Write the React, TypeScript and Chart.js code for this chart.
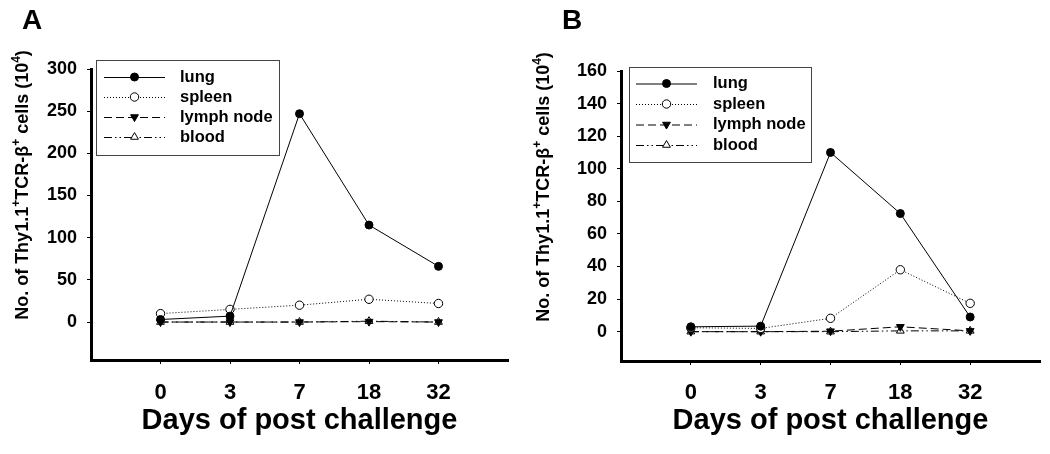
import React, { useEffect, useRef } from 'react';
import { Chart, registerables } from 'chart.js';

Chart.register(...registerables);

// ---------- data ----------
const days = ['0', '3', '7', '18', '32'];
const seriesNames = ['lung', 'spleen', 'lymph node', 'blood'];

const lungA = [3, 7, 247, 115, 66];
const spleenA = [10, 15, 20, 27, 22];
const lymphA = [0, 0, 0, 0.5, 0];
const bloodA = [0, 0, 0, 1, 0];

const lungB = [3, 3.4, 110, 72.5, 9];
const spleenB = [2.4, 2, 8.2, 38, 17.4];
const lymphB = [0, 0, 0.3, 3, 0.5];
const bloodB = [0, 0, 0, 0.5, 0.5];

const yTicksA = [0, 50, 100, 150, 200, 250, 300];
const yTicksB = [0, 20, 40, 60, 80, 100, 120, 140, 160];

const xTitle = 'Days of post challenge';
const yTitleParts: [string, boolean][] = [
  ['No. of Thy1.1', false],
  ['+', true],
  ['TCR-\u03B2', false],
  ['+', true],
  [' cells (10', false],
  ['4', true],
  [')', false],
];

// ---------- styles ----------
const FONT = '"Liberation Sans", Arial, Helvetica, sans-serif';

const seriesStyles = [
  { dash: [] as number[], pointStyle: 'circle', fill: '#000000', rot: 0, r: 4 },
  { dash: [1, 2], pointStyle: 'circle', fill: '#ffffff', rot: 0, r: 4.2 },
  { dash: [8, 4], pointStyle: 'triangle', fill: '#000000', rot: 180, r: 4.5 },
  { dash: [8, 3, 1.5, 3, 1.5, 3], pointStyle: 'triangle', fill: '#ffffff', rot: 0, r: 4.5 },
];

const panels = [
  {
    letter: 'A', letterX: 22,
    series: [lungA, spleenA, lymphA, bloodA],
    yMin: -45, yMax: 300, yTicks: yTicksA,
    padRight: 17, padTop: 69, yWidth: 91, xHeight: 94, tickPadX: 16,
    titleX: 28, titleY: 185,
    legend: { x: 96, y: 60, w: 183, h: 95, row0: 77, step: 20, l0: 104, l1: 165, tx: 180 },
  },
  {
    letter: 'B', letterX: 37,
    series: [lungB, spleenB, lymphB, bloodB],
    yMin: -18, yMax: 160, yTicks: yTicksB,
    padRight: 10, padTop: 71, yWidth: 96, xHeight: 93, tickPadX: 15,
    titleX: 24, titleY: 187,
    legend: { x: 104, y: 67, w: 182, h: 95, row0: 83.5, step: 20.5, l0: 111, l1: 172, tx: 188 },
  },
];

function drawMarker(ctx: CanvasRenderingContext2D, style: string, x: number, y: number, r: number, rotDeg: number, fill: string) {
  ctx.save();
  ctx.setLineDash([]);
  ctx.beginPath();
  if (style === 'circle') {
    ctx.arc(x, y, r, 0, Math.PI * 2);
  } else {
    let rad = (rotDeg * Math.PI) / 180;
    const T = (2 * Math.PI) / 3;
    ctx.moveTo(x + Math.sin(rad) * r, y - Math.cos(rad) * r);
    rad += T;
    ctx.lineTo(x + Math.sin(rad) * r, y - Math.cos(rad) * r);
    rad += T;
    ctx.lineTo(x + Math.sin(rad) * r, y - Math.cos(rad) * r);
    ctx.closePath();
  }
  ctx.fillStyle = fill;
  ctx.fill();
  ctx.lineWidth = 1;
  ctx.strokeStyle = '#000';
  ctx.stroke();
  ctx.restore();
}

const decorPlugin = {
  id: 'decor',
  afterDraw(chart: any, _args: any, opts: any) {
    const ctx: CanvasRenderingContext2D = chart.ctx;
    const p = opts.panel;
    if (!p) return;
    ctx.save();
    // panel letter
    ctx.fillStyle = '#000';
    ctx.font = `bold 28px ${FONT}`;
    ctx.textAlign = 'left';
    ctx.textBaseline = 'alphabetic';
    ctx.fillText(p.letter, p.letterX, 29);

    // y title with superscripts
    const base = 18;
    const sup = 12;
    ctx.save();
    ctx.translate(p.titleX, p.titleY);
    ctx.rotate(-Math.PI / 2);
    let total = 0;
    for (const [t, s] of yTitleParts) {
      ctx.font = `bold ${s ? sup : base}px ${FONT}`;
      total += ctx.measureText(t).width;
    }
    let cx = -total / 2;
    ctx.textAlign = 'left';
    ctx.textBaseline = 'alphabetic';
    for (const [t, s] of yTitleParts) {
      ctx.font = `bold ${s ? sup : base}px ${FONT}`;
      ctx.fillText(t, cx, s ? -8 : 0);
      cx += ctx.measureText(t).width;
    }
    ctx.restore();

    // legend
    const L = p.legend;
    ctx.lineWidth = 1;
    ctx.strokeStyle = '#444';
    ctx.setLineDash([]);
    ctx.fillStyle = '#fff';
    ctx.fillRect(L.x, L.y, L.w, L.h);
    ctx.strokeRect(L.x + 0.5, L.y + 0.5, L.w, L.h);
    seriesNames.forEach((name, i) => {
      const st = seriesStyles[i];
      const y = L.row0 + i * L.step;
      ctx.save();
      ctx.strokeStyle = '#000';
      ctx.lineWidth = 1;
      ctx.setLineDash(st.dash);
      ctx.beginPath();
      ctx.moveTo(L.l0, y + 0.5);
      ctx.lineTo(L.l1, y + 0.5);
      ctx.stroke();
      ctx.restore();
      drawMarker(ctx, st.pointStyle, (L.l0 + L.l1) / 2, y, st.r, st.rot, st.fill);
      ctx.fillStyle = '#000';
      ctx.font = `bold 16.5px ${FONT}`;
      ctx.textAlign = 'left';
      ctx.textBaseline = 'middle';
      ctx.fillText(name, L.tx, y);
    });
    ctx.restore();
  },
};

function Panel({ idx }: { idx: number }) {
  const ref = useRef<HTMLCanvasElement>(null);
  useEffect(() => {
    const p = panels[idx];
    const canvas = ref.current;
    if (!canvas) return;
    const datasets = p.series.map((vals, i) => {
      const st = seriesStyles[i];
      return {
        label: seriesNames[i],
        data: vals.map((v, j) => ({ x: j, y: v })),
        borderColor: '#000',
        borderWidth: 1,
        borderDash: st.dash,
        pointStyle: st.pointStyle,
        pointRotation: st.rot,
        pointRadius: st.r,
        pointBackgroundColor: st.fill,
        pointBorderColor: '#000',
        pointBorderWidth: 1,
        fill: false,
        tension: 0,
        clip: false,
      };
    });
    const chart = new Chart(canvas, {
      type: 'line',
      data: { datasets: datasets as any },
      plugins: [decorPlugin as any],
      options: {
        responsive: false,
        animation: false,
        devicePixelRatio: 1,
        layout: { padding: { left: 0, right: p.padRight, top: p.padTop, bottom: 0 } },
        plugins: {
          legend: { display: false },
          tooltip: { enabled: false },
          decor: { panel: p },
        } as any,
        scales: {
          x: {
            type: 'linear',
            min: -1,
            max: 5,
            afterBuildTicks: (s: any) => {
              s.ticks = days.map((_, i) => ({ value: i }));
            },
            afterFit: (s: any) => {
              s.height = p.xHeight;
            },
            ticks: {
              autoSkip: false,
              maxRotation: 0,
              padding: p.tickPadX,
              color: '#000',
              font: { family: FONT, size: 22, weight: 'bold' },
              callback: (v: any) => days[Math.round(Number(v))] ?? '',
            },
            grid: { display: true, drawOnChartArea: false, drawTicks: true, tickLength: 4, tickColor: '#000', tickWidth: 1 },
            border: { display: true, color: '#000', width: 3 },
            title: {
              display: true,
              text: xTitle,
              color: '#000',
              font: { family: FONT, size: 29, weight: 'bold' },
              padding: { top: 0, bottom: 16 },
            },
          },
          y: {
            type: 'linear',
            min: p.yMin,
            max: p.yMax,
            afterBuildTicks: (s: any) => {
              s.ticks = p.yTicks.map((v) => ({ value: v }));
            },
            afterFit: (s: any) => {
              s.width = p.yWidth;
            },
            ticks: {
              autoSkip: false,
              padding: 10,
              color: '#000',
              font: { family: FONT, size: 18, weight: 'bold' },
              callback: (v: any) => String(v),
            },
            grid: { display: true, drawOnChartArea: false, drawTicks: true, tickLength: 4, tickColor: '#000', tickWidth: 1 },
            border: { display: true, color: '#000', width: 3 },
          },
        },
      } as any,
    });
    return () => chart.destroy();
  }, [idx]);
  return (
    <canvas
      ref={ref}
      width={525}
      height={454}
      style={{ position: 'absolute', left: idx * 525, top: 0, width: 525, height: 454, display: 'block' }}
    />
  );
}

export default function App() {
  return (
    <div style={{ position: 'absolute', left: 0, top: 0, width: 1050, height: 454, background: '#fff', overflow: 'hidden' }}>
      <Panel idx={0} />
      <Panel idx={1} />
    </div>
  );
}
